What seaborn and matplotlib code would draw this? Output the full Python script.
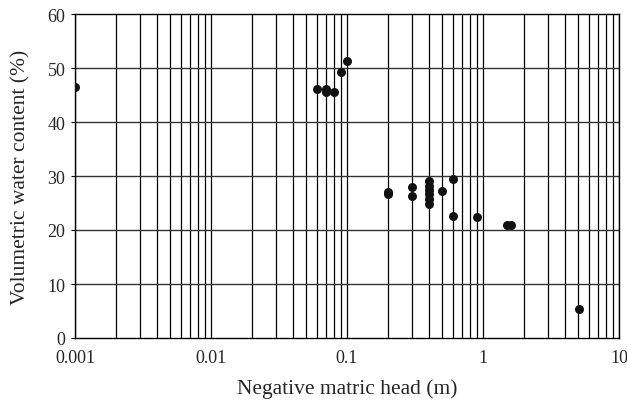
import matplotlib
matplotlib.use("Agg")
import matplotlib.pyplot as plt
import seaborn as sns
import numpy as np
import pandas as pd
from matplotlib.ticker import FixedLocator, NullFormatter

head_m = [0.001, 0.06, 0.07, 0.07, 0.08, 0.09, 0.1,
          0.2, 0.2, 0.3, 0.3, 0.4, 0.4, 0.4, 0.4, 0.4, 0.4,
          0.5, 0.6, 0.6, 0.9, 1.5, 1.6, 5.1]
water_content = [46.5, 46.1, 46.1, 45.6, 45.5, 49.3, 51.3,
                 27.1, 26.6, 28.0, 26.3, 29.1, 28.2, 27.4, 26.6, 25.8, 24.9,
                 27.3, 29.4, 22.6, 22.5, 21.0, 21.0, 5.4]
x_ticks = [0.001, 0.01, 0.1, 1, 10]
x_tick_labels = ["0.001", "0.01", "0.1", "1", "10"]
y_ticks = [0, 10, 20, 30, 40, 50, 60]

df = pd.DataFrame({"head": head_m, "theta": water_content})

sns.set_style("white")
plt.rcParams["font.family"] = ["Liberation Serif", "DejaVu Serif"]

fig = plt.figure(figsize=(6.27, 4.02), dpi=100)
ax = fig.add_axes([75/627, 63/402, 544/627, 324/402])

ax.set_xscale("log")
ax.set_xlim(0.001, 10)
ax.set_ylim(0, 60)

# grid lines
minor = [m * 10.0**e for e in range(-3, 1) for m in range(2, 10)]
for v in minor + x_ticks:
    ax.axvline(v, color="black", lw=0.9, zorder=1)
for v in y_ticks[1:-1]:
    ax.axhline(v, color="#333333", lw=1.0, zorder=1)

sns.scatterplot(data=df, x="head", y="theta", ax=ax, color="#111111",
                s=42, edgecolor="#111111", linewidth=0, zorder=3, legend=False)

ax.xaxis.set_major_locator(FixedLocator(x_ticks))
ax.set_xticklabels(x_tick_labels)
ax.xaxis.set_minor_formatter(NullFormatter())
ax.tick_params(axis="x", which="both", length=0, labelsize=13, pad=8)
ax.set_yticks(y_ticks)
ax.tick_params(axis="y", length=3, width=0.8, labelsize=13, pad=4, color="black", left=True)

for s in ax.spines.values():
    s.set_color("black")
    s.set_linewidth(1.0)

ax.set_xlabel("Negative matric head (m)", fontsize=15.5, labelpad=9)
ax.set_ylabel("Volumetric water content (%)", fontsize=15.5, labelpad=12)

fig.savefig("out.png", dpi=100)
